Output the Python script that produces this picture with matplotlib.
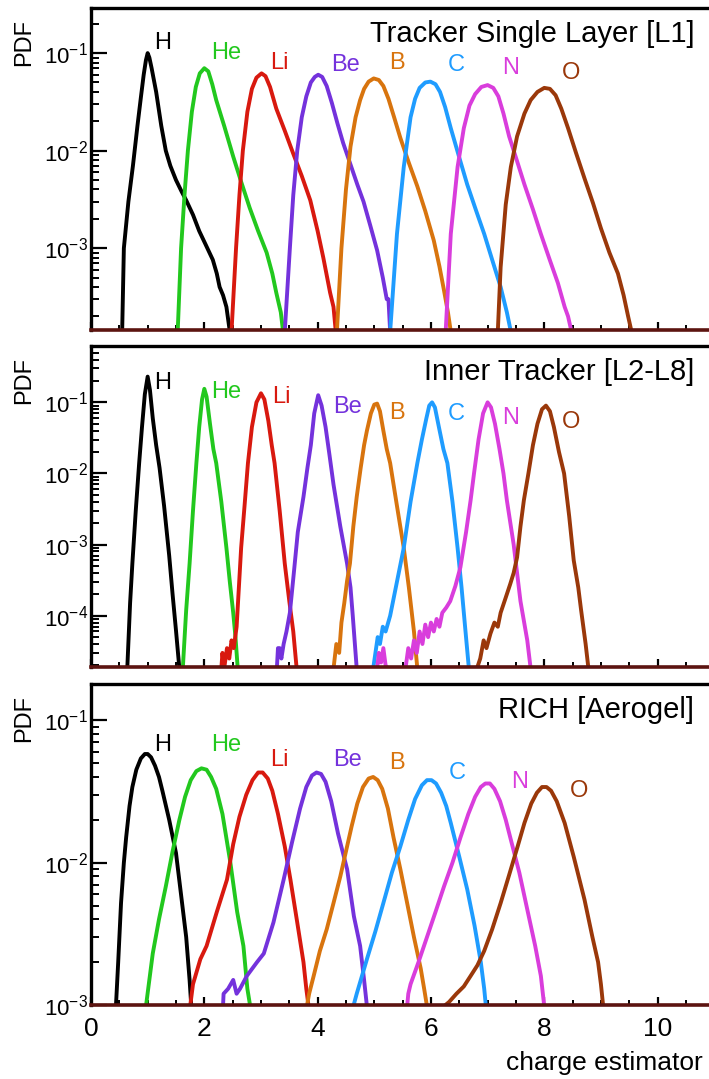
import matplotlib
matplotlib.use('Agg')
import matplotlib.pyplot as plt
from matplotlib.ticker import LogLocator, MultipleLocator, LogFormatterSciNotation, NullFormatter

plt.rcParams['font.family'] = ['Liberation Sans', 'DejaVu Sans']
plt.rcParams['mathtext.fontset'] = 'custom'
plt.rcParams['mathtext.rm'] = 'Liberation Sans'
plt.rcParams['mathtext.it'] = 'Liberation Sans:italic'
plt.rcParams['mathtext.bf'] = 'Liberation Sans:bold'
plt.rcParams['mathtext.default'] = 'regular'
plt.rcParams['axes.unicode_minus'] = False

# ---------------- data ----------------
elements = ['H', 'He', 'Li', 'Be', 'B', 'C', 'N', 'O']
colors = ['#000000', '#22c81e', '#d8190f', '#7432dc', '#d8740e', '#1f9cff', '#d93ddc', '#9a380a']

panel_titles = ['Tracker Single Layer [L1]', 'Inner Tracker [L2-L8]', 'RICH [Aerogel]']
panel_ylims = [(1.45e-4, 0.29), (1.9e-5, 0.62), (1e-3, 0.18)]

# Panel 1: Tracker Single Layer [L1]
F1 = 1.4e-4
L1_H_x = [0.55, 0.58, 0.66, 0.74, 0.82, 0.88, 0.93, 0.97, 1.0, 1.03, 1.07, 1.15, 1.24, 1.32, 1.40, 1.50, 1.60, 1.68, 1.80, 1.91, 2.02, 2.15, 2.22, 2.27, 2.33, 2.39, 2.45]
L1_H_y = [F1, 1e-3, 3e-3, 7e-3, 0.018, 0.035, 0.06, 0.085, 0.1, 0.09, 0.07, 0.04, 0.018, 0.01, 0.007, 0.005, 0.0038, 0.0031, 0.0022, 0.0015, 0.0011, 7.6e-4, 5.5e-4, 4e-4, 3.3e-4, 2.5e-4, F1]
L1_He_x = [1.53, 1.59, 1.65, 1.71, 1.78, 1.85, 1.92, 2.0, 2.07, 2.14, 2.21, 2.35, 2.51, 2.65, 2.80, 2.95, 3.10, 3.20, 3.27, 3.35, 3.39]
L1_He_y = [F1, 1e-3, 3.5e-3, 1e-2, 0.025, 0.045, 0.062, 0.07, 0.065, 0.048, 0.033, 0.018, 0.0087, 0.0048, 0.0026, 0.0015, 9e-4, 5.5e-4, 3.5e-4, 2.2e-4, F1]
L1_Li_x = [2.48, 2.56, 2.62, 2.68, 2.76, 2.84, 2.92, 3.01, 3.08, 3.16, 3.27, 3.42, 3.57, 3.72, 3.87, 4.0, 4.10, 4.22, 4.28, 4.32]
L1_Li_y = [F1, 1e-3, 3.5e-3, 1e-2, 0.025, 0.043, 0.056, 0.062, 0.058, 0.045, 0.027, 0.016, 0.0093, 0.0055, 0.0031, 0.0015, 8e-4, 3.5e-4, 2.5e-4, F1]
L1_Be_x = [3.42, 3.51, 3.57, 3.64, 3.72, 3.80, 3.88, 3.95, 4.01, 4.08, 4.16, 4.25, 4.35, 4.45, 4.57, 4.70, 4.81, 4.93, 5.05, 5.15, 5.22, 5.25, 5.28]
L1_Be_y = [F1, 1e-3, 3.5e-3, 1e-2, 0.022, 0.036, 0.05, 0.057, 0.06, 0.057, 0.046, 0.031, 0.019, 0.012, 0.0075, 0.0045, 0.003, 0.0017, 9.5e-4, 5e-4, 3e-4, 3e-4, F1]
L1_B_x = [4.34, 4.42, 4.50, 4.58, 4.67, 4.75, 4.82, 4.90, 4.99, 5.08, 5.16, 5.25, 5.35, 5.46, 5.61, 5.76, 5.90, 6.05, 6.15, 6.23, 6.30, 6.35]
L1_B_y = [F1, 1e-3, 4e-3, 1.1e-2, 0.022, 0.033, 0.043, 0.051, 0.055, 0.053, 0.046, 0.034, 0.022, 0.0135, 0.0075, 0.0043, 0.0024, 0.0012, 6.5e-4, 3.7e-4, 2.2e-4, F1]
L1_C_x = [5.28, 5.40, 5.52, 5.64, 5.72, 5.80, 5.90, 5.99, 6.08, 6.16, 6.25, 6.35, 6.50, 6.64, 6.80, 6.94, 7.10, 7.23, 7.34, 7.41]
L1_C_y = [F1, 1.4e-3, 6.8e-3, 0.022, 0.034, 0.044, 0.05, 0.051, 0.048, 0.04, 0.028, 0.017, 0.0085, 0.0045, 0.0024, 1.4e-3, 7e-4, 4e-4, 2.2e-4, F1]
L1_N_x = [6.26, 6.35, 6.47, 6.58, 6.68, 6.78, 6.89, 7.0, 7.10, 7.19, 7.28, 7.38, 7.50, 7.65, 7.80, 7.94, 8.10, 8.24, 8.36, 8.42, 8.48]
L1_N_y = [F1, 1.4e-3, 6.8e-3, 0.017, 0.029, 0.038, 0.045, 0.047, 0.044, 0.036, 0.024, 0.014, 0.0085, 0.0045, 0.0025, 1.4e-3, 7.5e-4, 4.4e-4, 2.5e-4, 2e-4, F1]
L1_O_x = [7.18, 7.23, 7.32, 7.41, 7.52, 7.65, 7.76, 7.88, 8.0, 8.10, 8.20, 8.30, 8.42, 8.56, 8.71, 8.86, 9.0, 9.15, 9.30, 9.40, 9.48, 9.54]
L1_O_y = [F1, 6.4e-4, 2.8e-3, 6.8e-3, 0.014, 0.024, 0.033, 0.04, 0.044, 0.043, 0.037, 0.027, 0.017, 0.0095, 0.0052, 0.0029, 0.0016, 9e-4, 5.5e-4, 3.3e-4, 2e-4, F1]

# Panel 2: Inner Tracker [L2-L8]
F2 = 1.8e-5
L2_H_x = [0.64, 0.69, 0.73, 0.79, 0.85, 0.90, 0.95, 1.0, 1.04, 1.09, 1.15, 1.21, 1.29, 1.38, 1.44, 1.50, 1.56]
L2_H_y = [F2, 1.5e-4, 5.4e-4, 3e-3, 0.014, 0.045, 0.13, 0.23, 0.15, 0.06, 0.025, 0.012, 3.5e-3, 7e-4, 2e-4, 6.2e-5, F2]
L2_He_x = [1.62, 1.68, 1.74, 1.80, 1.86, 1.91, 1.96, 2.0, 2.04, 2.10, 2.16, 2.21, 2.30, 2.39, 2.45, 2.51, 2.55, 2.59]
L2_He_y = [F2, 1.2e-4, 5.4e-4, 3e-3, 0.014, 0.045, 0.11, 0.155, 0.12, 0.05, 0.022, 0.014, 4e-3, 9e-4, 3e-4, 1.1e-4, 5e-5, F2]
L2_Li_x = [2.30, 2.32, 2.35, 2.40, 2.44, 2.48, 2.52, 2.57, 2.61, 2.65, 2.71, 2.77, 2.84, 2.92, 3.0, 3.06, 3.13, 3.19, 3.24, 3.33, 3.42, 3.50, 3.57, 3.63]
L2_Li_y = [F2, 3e-5, F2, 3.5e-5, 2.5e-5, 4.5e-5, 3.5e-5, 7e-5, 2.5e-4, 9e-4, 3.5e-3, 0.014, 0.045, 0.1, 0.134, 0.11, 0.055, 0.025, 0.014, 3e-3, 5.4e-4, 1.6e-4, 6e-5, F2]
L2_Be_x = [3.28, 3.30, 3.33, 3.36, 3.40, 3.45, 3.51, 3.58, 3.65, 3.75, 3.82, 3.88, 3.94, 4.01, 4.07, 4.14, 4.21, 4.28, 4.40, 4.52, 4.58, 4.62, 4.69]
L2_Be_y = [F2, 3.5e-5, 3.5e-5, 2.5e-5, 4e-5, 6e-5, 1.1e-4, 4e-4, 1.5e-3, 4.7e-3, 0.012, 0.025, 0.07, 0.126, 0.09, 0.045, 0.018, 7e-3, 1.8e-3, 5.4e-4, 2.5e-4, 1e-4, F2]
L2_B_x = [4.28, 4.33, 4.38, 4.42, 4.47, 4.52, 4.57, 4.63, 4.69, 4.76, 4.82, 4.87, 4.94, 5.0, 5.05, 5.10, 5.16, 5.22, 5.28, 5.40, 5.52, 5.61, 5.70, 5.76]
L2_B_y = [F2, 4e-5, 3e-5, 8e-5, 1.5e-4, 3.1e-4, 5.4e-4, 1.8e-3, 4.7e-3, 0.012, 0.025, 0.04, 0.07, 0.093, 0.096, 0.075, 0.04, 0.022, 0.014, 3.5e-3, 9e-4, 2.5e-4, 6e-5, F2]
L2_C_x = [4.98, 5.02, 5.06, 5.10, 5.15, 5.20, 5.28, 5.40, 5.52, 5.64, 5.76, 5.84, 5.92, 5.97, 6.02, 6.07, 6.14, 6.22, 6.29, 6.38, 6.47, 6.54, 6.61, 6.67]
L2_C_y = [F2, 3e-5, 5e-5, 4e-5, 7e-5, 6e-5, 1e-4, 3e-4, 9e-4, 4e-3, 0.014, 0.03, 0.06, 0.09, 0.1, 0.085, 0.045, 0.022, 0.014, 4e-3, 9e-4, 2.5e-4, 6e-5, F2]
L2_N_x = [5.05, 5.08, 5.12, 5.16, 5.20, 5.24, 5.55, 5.60, 5.65, 5.70, 5.75, 5.80, 5.85, 5.90, 5.95, 6.00, 6.05, 6.10, 6.15, 6.20, 6.27, 6.34, 6.43, 6.52, 6.62, 6.70, 6.76, 6.84, 6.92, 7.0, 7.06, 7.13, 7.21, 7.28, 7.34, 7.46, 7.52, 7.58, 7.70, 7.76]
L2_N_y = [F2, 3e-5, 2.2e-5, 3.5e-5, 2e-5, F2, F2, 3.5e-5, 2.5e-5, 4.5e-5, 3e-5, 6e-5, 4e-5, 7.5e-5, 5e-5, 8e-5, 6e-5, 9e-5, 7e-5, 1.1e-4, 1.3e-4, 1.6e-4, 2.6e-4, 4.8e-4, 1.5e-3, 4.2e-3, 0.01, 0.03, 0.07, 0.1, 0.085, 0.05, 0.022, 0.01, 4.2e-3, 1e-3, 4e-4, 1.6e-4, 4.5e-5, F2]
L2_O_x = [6.81, 6.87, 6.93, 6.98, 7.05, 7.12, 7.18, 7.23, 7.32, 7.40, 7.46, 7.52, 7.58, 7.64, 7.72, 7.80, 7.88, 7.96, 8.03, 8.10, 8.17, 8.26, 8.35, 8.44, 8.52, 8.60, 8.65, 8.73, 8.78]
L2_O_y = [F2, 2.5e-5, 4.5e-5, 3.5e-5, 5.6e-5, 8e-5, 7e-5, 1.1e-4, 1.8e-4, 2.8e-4, 4e-4, 6.6e-4, 1.8e-3, 4.2e-3, 0.01, 0.025, 0.05, 0.08, 0.09, 0.075, 0.045, 0.02, 0.01, 2.5e-3, 6e-4, 2.5e-4, 1.2e-4, 4e-5, F2]

# Panel 3: RICH [Aerogel]
F3 = 9.8e-4
L3_H_x = [0.44, 0.48, 0.53, 0.58, 0.62, 0.68, 0.73, 0.80, 0.88, 0.95, 1.0, 1.06, 1.13, 1.20, 1.26, 1.38, 1.50, 1.60, 1.68, 1.74, 1.77]
L3_H_y = [F3, 2e-3, 5.2e-3, 0.01, 0.015, 0.025, 0.034, 0.045, 0.054, 0.058, 0.058, 0.055, 0.048, 0.04, 0.032, 0.02, 0.0117, 5.5e-3, 3e-3, 1.5e-3, F3]
L3_He_x = [0.97, 1.02, 1.09, 1.20, 1.32, 1.44, 1.56, 1.66, 1.76, 1.86, 1.95, 2.04, 2.12, 2.21, 2.32, 2.46, 2.58, 2.69, 2.76, 2.81]
L3_He_y = [F3, 1.4e-3, 2.3e-3, 4e-3, 6.8e-3, 0.012, 0.02, 0.029, 0.038, 0.044, 0.046, 0.045, 0.04, 0.033, 0.022, 0.01, 4.5e-3, 2.6e-3, 1.3e-3, F3]
L3_Li_x = [1.75, 1.80, 1.93, 2.04, 2.22, 2.40, 2.51, 2.62, 2.74, 2.85, 2.95, 3.03, 3.12, 3.20, 3.30, 3.42, 3.52, 3.64, 3.75, 3.80, 3.84]
L3_Li_y = [F3, 1.4e-3, 2.1e-3, 2.6e-3, 4.5e-3, 7.6e-3, 0.0135, 0.021, 0.03, 0.038, 0.043, 0.043, 0.039, 0.032, 0.022, 0.013, 7.6e-3, 3.8e-3, 2e-3, 1.3e-3, F3]
L3_Be_x = [2.15, 2.33, 2.34, 2.42, 2.51, 2.57, 2.63, 2.75, 2.93, 3.05, 3.22, 3.40, 3.55, 3.69, 3.80, 3.90, 3.98, 4.06, 4.14, 4.24, 4.36, 4.52, 4.64, 4.75, 4.82, 4.87]
L3_Be_y = [F3, F3, 1.2e-3, 1.3e-3, 1.5e-3, 1.2e-3, 1.3e-3, 1.6e-3, 2e-3, 2.3e-3, 3.8e-3, 7.6e-3, 0.014, 0.024, 0.034, 0.041, 0.043, 0.042, 0.037, 0.027, 0.016, 9e-3, 4.2e-3, 2.6e-3, 1.5e-3, F3]
L3_B_x = [3.81, 3.85, 3.93, 4.04, 4.16, 4.28, 4.40, 4.50, 4.60, 4.70, 4.80, 4.90, 4.98, 5.06, 5.14, 5.24, 5.34, 5.46, 5.58, 5.70, 5.82, 5.88, 5.93]
L3_B_y = [F3, 1.2e-3, 1.6e-3, 2.4e-3, 3.4e-3, 5.2e-3, 8e-3, 0.012, 0.018, 0.026, 0.034, 0.039, 0.04, 0.038, 0.033, 0.024, 0.015, 9e-3, 5.2e-3, 3e-3, 1.8e-3, 1.3e-3, F3]
L3_C_x = [4.63, 4.69, 4.87, 5.02, 5.16, 5.31, 5.46, 5.60, 5.72, 5.84, 5.93, 6.01, 6.09, 6.18, 6.27, 6.35, 6.50, 6.64, 6.77, 6.88, 6.94, 6.97]
L3_C_y = [F3, 1.2e-3, 2.1e-3, 3.3e-3, 5.2e-3, 8.5e-3, 0.013, 0.02, 0.028, 0.035, 0.038, 0.038, 0.036, 0.031, 0.025, 0.019, 0.011, 6.5e-3, 3.6e-3, 2e-3, 1.3e-3, F3]
L3_N_x = [5.58, 5.60, 5.64, 5.78, 5.93, 6.08, 6.23, 6.38, 6.52, 6.66, 6.78, 6.88, 6.96, 7.04, 7.12, 7.22, 7.32, 7.41, 7.56, 7.71, 7.84, 7.94, 8.0]
L3_N_y = [F3, 1.2e-3, 1.4e-3, 2e-3, 3e-3, 4.5e-3, 6.8e-3, 0.01, 0.015, 0.022, 0.029, 0.034, 0.036, 0.036, 0.033, 0.027, 0.02, 0.0145, 8.5e-3, 4.5e-3, 2.6e-3, 1.6e-3, F3]
L3_O_x = [6.23, 6.32, 6.45, 6.58, 6.70, 6.82, 6.94, 7.08, 7.23, 7.38, 7.53, 7.65, 7.77, 7.87, 7.96, 8.04, 8.12, 8.22, 8.36, 8.52, 8.71, 8.85, 8.95, 9.0, 9.04]
L3_O_y = [F3, 1.05e-3, 1.2e-3, 1.35e-3, 1.6e-3, 1.9e-3, 2.4e-3, 3.4e-3, 5.2e-3, 8.2e-3, 0.013, 0.019, 0.026, 0.031, 0.034, 0.034, 0.032, 0.027, 0.019, 0.011, 5.5e-3, 3e-3, 2e-3, 1.4e-3, F3]

# element label positions (x, y) per panel
L1_label_x = [1.26, 2.39, 3.33, 4.49, 5.40, 6.44, 7.41, 8.48]
L1_label_y = [0.126, 0.10, 0.079, 0.075, 0.079, 0.075, 0.07, 0.062]
L2_label_x = [1.26, 2.39, 3.36, 4.52, 5.40, 6.44, 7.41, 8.48]
L2_label_y = [0.19, 0.14, 0.12, 0.085, 0.07, 0.068, 0.06, 0.053]
L3_label_x = [1.26, 2.39, 3.33, 4.52, 5.40, 6.47, 7.56, 8.62]
L3_label_y = [0.067, 0.067, 0.053, 0.053, 0.05, 0.043, 0.037, 0.032]

xlim = (0, 10.92)
x_label = 'charge estimator'
y_label = 'PDF'

# ---------------- figure ----------------
W, H = 709, 1079
fig = plt.figure(figsize=(W / 100, H / 100), dpi=100)

def fx(px):
    return px / W

def fy(py):
    return 1 - py / H

panel_px = [(8, 330), (346, 667), (684, 1005)]
left_px = 91

curves = [
    [(L1_H_x, L1_H_y), (L1_He_x, L1_He_y), (L1_Li_x, L1_Li_y), (L1_Be_x, L1_Be_y),
     (L1_B_x, L1_B_y), (L1_C_x, L1_C_y), (L1_N_x, L1_N_y), (L1_O_x, L1_O_y)],
    [(L2_H_x, L2_H_y), (L2_He_x, L2_He_y), (L2_Li_x, L2_Li_y), (L2_Be_x, L2_Be_y),
     (L2_B_x, L2_B_y), (L2_C_x, L2_C_y), (L2_N_x, L2_N_y), (L2_O_x, L2_O_y)],
    [(L3_H_x, L3_H_y), (L3_He_x, L3_He_y), (L3_Li_x, L3_Li_y), (L3_Be_x, L3_Be_y),
     (L3_B_x, L3_B_y), (L3_C_x, L3_C_y), (L3_N_x, L3_N_y), (L3_O_x, L3_O_y)],
]
labels_xy = [(L1_label_x, L1_label_y), (L2_label_x, L2_label_y), (L3_label_x, L3_label_y)]

for i, (top, bot) in enumerate(panel_px):
    ax = fig.add_axes([fx(left_px), fy(bot), 1 - fx(left_px) + 0.001, (bot - top) / H])
    for (xs, ys), col in zip(curves[i], colors):
        ax.plot(xs, ys, color=col, lw=2.8, solid_joinstyle='round', solid_capstyle='round', zorder=2)
    for (tx, ty, el, col) in zip(labels_xy[i][0], labels_xy[i][1], elements, colors):
        ax.text(tx, ty, el, color=col, fontsize=17, ha='center', va='center')
    ax.set_yscale('log')
    ax.set_ylim(*panel_ylims[i])
    ax.set_xlim(*xlim)
    ax.yaxis.set_major_locator(LogLocator(base=10, numticks=12))
    ax.yaxis.set_minor_locator(LogLocator(base=10, subs=[2, 3, 4, 5, 6, 7, 8, 9], numticks=12))
    ax.yaxis.set_major_formatter(LogFormatterSciNotation())
    ax.yaxis.set_minor_formatter(NullFormatter())
    ax.xaxis.set_major_locator(MultipleLocator(2))
    ax.xaxis.set_minor_locator(MultipleLocator(0.5))
    ax.tick_params(axis='y', which='major', direction='in', length=11.5, width=1.6, labelsize=16, pad=2)
    ax.tick_params(axis='y', which='minor', direction='in', length=5.5, width=1.4)
    ax.tick_params(axis='x', which='major', direction='in', length=6, width=1.6, labelsize=19, pad=9)
    ax.tick_params(axis='x', which='minor', direction='in', length=3.5, width=1.4)
    ax.tick_params(top=False, right=False)
    if i < 2:
        ax.tick_params(axis='x', labelbottom=False)
    ax.spines['right'].set_visible(False)
    ax.spines['top'].set_linewidth(2.4)
    ax.spines['left'].set_linewidth(2.4)
    ax.spines['bottom'].set_linewidth(2.6)
    ax.spines['bottom'].set_color('#5c1410')
    ax.text(0.975, 0.92, panel_titles[i], transform=ax.transAxes, ha='right', va='center', fontsize=21)
    ax.text(-0.108, 0.965, y_label, transform=ax.transAxes, ha='center', va='top', rotation=90, fontsize=17)

fig.text(fx(703), fy(1063), x_label, ha='right', va='center', fontsize=19)

fig.savefig('out.png', dpi=100)
